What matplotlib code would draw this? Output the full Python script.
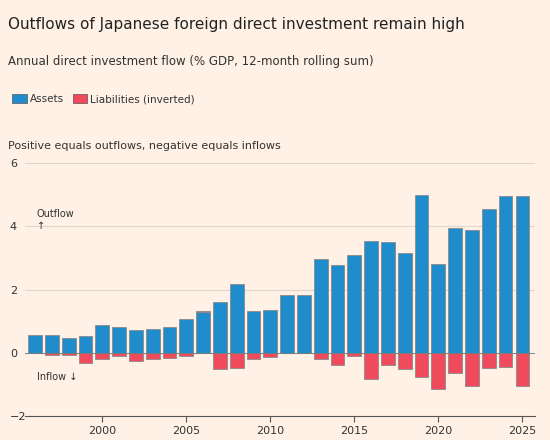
import matplotlib
matplotlib.use("Agg")
import matplotlib.pyplot as plt
from matplotlib.patches import Patch

years = list(range(1996, 2026))
assets = [0.55,0.55,0.46,0.53,0.89,0.80,0.73,0.74,0.82,1.07,1.28,1.62,2.18,1.33,1.35,1.82,1.83,
          2.95,2.77,3.09,3.52,3.49,3.14,4.98,2.81,3.95,3.88,4.55,4.95,4.97]
liabilities = [-0.01,-0.06,-0.06,-0.32,-0.21,-0.11,-0.27,-0.19,-0.16,-0.09,0.05,-0.51,-0.48,-0.21,-0.13,0.0,0.0,
               -0.20,-0.39,-0.11,-0.83,-0.38,-0.51,-0.76,-1.16,-0.65,-1.06,-0.47,-0.45,-1.05]
yticks = [-2, 0, 2, 4, 6]
xticks = [2000, 2005, 2010, 2015, 2020, 2025]

bg = "#fff1e5"
blue = "#1f8ccb"
red = "#f04b5c"

fig = plt.figure(figsize=(5.5, 4.4), dpi=100, facecolor=bg)
ax = fig.add_axes([25/550, 1-416/440, 510/550, 253/440], facecolor=bg)

ax.bar(years, assets, width=0.82, color=blue, edgecolor="#8a8a8a", linewidth=0.6, zorder=3)
lb = [a if l > 0 else 0 for a, l in zip(assets, liabilities)]
ax.bar(years, liabilities, bottom=lb, width=0.82, color=red, edgecolor="#8a8a8a", linewidth=0.6, zorder=3)

ax.set_ylim(-2, 6)
ax.set_xlim(1995.4, 2025.75)
ax.set_yticks(yticks)
ax.set_xticks(xticks)
ax.grid(axis="y", color="#e0d6cc", linewidth=0.8, zorder=0)
for s in ["top", "right", "left"]:
    ax.spines[s].set_visible(False)
ax.spines["bottom"].set_color("#555555")
ax.tick_params(axis="y", length=0, labelsize=8, colors="#333333", pad=-2)
ax.tick_params(axis="x", length=4, labelsize=8, colors="#333333", color="#555555")
for lab in ax.get_yticklabels():
    lab.set_horizontalalignment("left")
    lab.set_x(-0.035)
ax.axhline(0, color="#777777", linewidth=0.6, zorder=4)

ax.text(1996.1, 3.85, "Outflow\n\u2191", fontsize=7, color="#333333", va="bottom", linespacing=1.2)
ax.text(1996.1, -0.75, "Inflow \u2193", fontsize=7, color="#333333", va="center")

fig.text(8/550, 1-25/440, "Outflows of Japanese foreign direct investment remain high",
         fontsize=11, color="#222222", va="center")
fig.text(8/550, 1-62/440, "Annual direct investment flow (% GDP, 12-month rolling sum)",
         fontsize=8.5, color="#333333", va="center")
handles = [Patch(facecolor=blue, edgecolor="#555555", linewidth=0.5, label="Assets"),
           Patch(facecolor=red, edgecolor="#555555", linewidth=0.5, label="Liabilities (inverted)")]
fig.legend(handles=handles, loc="center left", bbox_to_anchor=(3/550, 1-99/440), ncol=2, frameon=False,
           fontsize=7.5, handlelength=1.4, handleheight=0.9, handletextpad=0.3, columnspacing=0.8,
           labelcolor="#333333")
fig.text(8/550, 1-146/440, "Positive equals outflows, negative equals inflows",
         fontsize=8, color="#333333", va="center")

fig.savefig("out.png", dpi=100, facecolor=bg)
